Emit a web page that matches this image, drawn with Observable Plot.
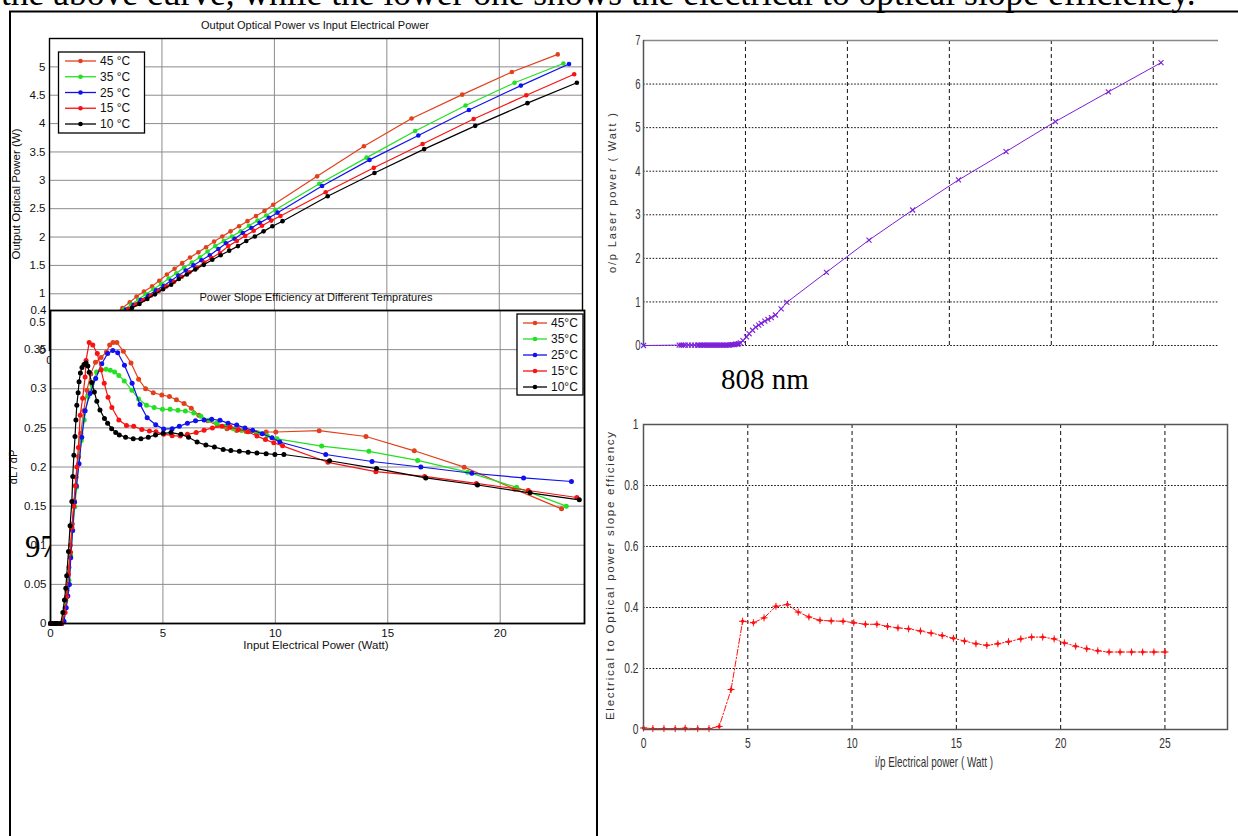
<!DOCTYPE html>
<html>
<head>
<meta charset="utf-8">
<script src="https://cdn.jsdelivr.net/npm/d3@7"></script>
<script src="https://cdn.jsdelivr.net/npm/@observablehq/plot@0.6"></script>
<style>
  body { margin: 0; background: #fff; }
  #page { position: relative; width: 1238px; height: 836px; overflow: hidden; background: #fff; }
  #page svg { position: absolute; }
</style>
</head>
<body>
<div id="page"></div>
<script>
// ---------- Output optical power vs input electrical power (W), per temperature ----------
const tempLabels = ["45 °C", "35 °C", "25 °C", "15 °C", "10 °C"];
const tempLabelsShort = ["45°C", "35°C", "25°C", "15°C", "10°C"];
const tempColors = ["#e2401c", "#22e022", "#1010f0", "#f81212", "#000000"];

const p45x = [2.9, 3.24, 3.57, 3.87, 4.2, 4.56, 4.88, 5.22, 5.56, 5.9, 6.25, 6.62, 6.96, 7.32, 7.68, 8.05, 8.43, 8.8, 9.18, 9.56, 9.95, 11.9, 13.98, 16.1, 18.35, 20.56, 22.6];
const p45y = [0.64, 0.75, 0.85, 0.95, 1.04, 1.13, 1.23, 1.34, 1.44, 1.54, 1.64, 1.73, 1.82, 1.92, 2.01, 2.10, 2.19, 2.28, 2.37, 2.46, 2.57, 3.07, 3.60, 4.09, 4.51, 4.91, 5.22];
const p35x = [3.0, 3.3, 3.63, 3.95, 4.28, 4.62, 4.96, 5.3, 5.64, 5.98, 6.33, 6.69, 7.03, 7.37, 7.75, 8.11, 8.5, 8.87, 9.25, 9.64, 10.05, 12.0, 14.1, 16.26, 18.5, 20.68, 22.85];
const p35y = [0.63, 0.72, 0.81, 0.9, 0.99, 1.08, 1.17, 1.27, 1.36, 1.46, 1.55, 1.645, 1.745, 1.84, 1.93, 2.01, 2.10, 2.20, 2.29, 2.38, 2.48, 2.94, 3.40, 3.87, 4.32, 4.72, 5.06];
const p25x = [3.1, 3.4, 3.73, 4.06, 4.4, 4.74, 5.08, 5.4, 5.73, 6.06, 6.4, 6.76, 7.13, 7.51, 7.85, 8.23, 8.6, 8.98, 9.35, 9.76, 10.14, 12.12, 14.23, 16.4, 18.65, 20.96, 23.1];
const p25y = [0.64, 0.72, 0.8, 0.89, 0.97, 1.06, 1.14, 1.23, 1.32, 1.41, 1.5, 1.59, 1.68, 1.79, 1.89, 1.97, 2.07, 2.16, 2.25, 2.34, 2.43, 2.90, 3.36, 3.79, 4.24, 4.67, 5.05];
const p15x = [3.2, 3.5, 3.84, 4.18, 4.52, 4.86, 5.2, 5.54, 5.88, 6.22, 6.56, 6.88, 7.2, 7.58, 7.95, 8.33, 8.7, 9.08, 9.45, 9.86, 10.27, 12.28, 14.42, 16.59, 18.86, 21.2, 23.33];
const p15y = [0.65, 0.73, 0.81, 0.89, 0.97, 1.05, 1.13, 1.21, 1.3, 1.38, 1.46, 1.55, 1.63, 1.72, 1.84, 1.93, 2.02, 2.11, 2.2, 2.29, 2.37, 2.79, 3.22, 3.64, 4.08, 4.50, 4.87];
const p10x = [3.35, 3.67, 4.0, 4.35, 4.69, 5.05, 5.41, 5.75, 6.11, 6.48, 6.86, 7.24, 7.61, 7.99, 8.38, 8.75, 9.13, 9.52, 9.91, 10.36, 12.37, 14.45, 16.66, 18.93, 21.25, 23.45];
const p10y = [0.67, 0.75, 0.82, 0.91, 0.99, 1.08, 1.16, 1.26, 1.34, 1.43, 1.51, 1.6, 1.68, 1.76, 1.84, 1.93, 2.01, 2.1, 2.19, 2.28, 2.72, 3.13, 3.55, 3.96, 4.36, 4.72];
const powerTicksX = [0, 5, 10, 15, 20];
const powerTicksY = [0, 0.5, 1, 1.5, 2, 2.5, 3, 3.5, 4, 4.5, 5];

// ---------- Power slope efficiency dL/dP, per temperature ----------
const s45x = [0, 0.1, 0.2, 0.3, 0.4, 0.5, 0.65, 0.73, 0.82, 0.89, 0.97, 1.06, 1.14, 1.25, 1.35, 1.48, 1.62, 1.79, 2.0, 2.25, 2.49, 2.63, 2.78, 2.95, 3.24, 3.58, 3.92, 4.23, 4.57, 4.95, 5.29, 5.6, 5.94, 6.26, 6.6, 7.0, 7.42, 7.85, 8.28, 8.7, 9.15, 9.59, 10.02, 11.95, 14.03, 16.18, 18.4, 20.65, 22.73];
const s45y = [0, 0, 0, 0, 0, 0, 0.02, 0.042, 0.072, 0.1, 0.127, 0.157, 0.187, 0.213, 0.243, 0.272, 0.298, 0.319, 0.334, 0.34, 0.347, 0.356, 0.359, 0.359, 0.348, 0.333, 0.312, 0.30, 0.295, 0.292, 0.29, 0.286, 0.281, 0.275, 0.266, 0.259, 0.253, 0.249, 0.2468, 0.2455, 0.244, 0.2447, 0.2447, 0.2464, 0.239, 0.2207, 0.1998, 0.1717, 0.1465];
const s35x = [0, 0.1, 0.2, 0.3, 0.4, 0.5, 0.68, 0.82, 0.9, 0.99, 1.08, 1.16, 1.25, 1.37, 1.5, 1.67, 1.84, 2.05, 2.25, 2.47, 2.66, 2.85, 3.04, 3.28, 3.62, 3.92, 4.27, 4.61, 4.98, 5.32, 5.67, 6.0, 6.37, 6.69, 7.05, 7.39, 7.76, 8.14, 8.5, 8.87, 9.25, 9.64, 10.07, 12.06, 14.16, 16.33, 18.55, 20.73, 22.94];
const s35y = [0, 0, 0, 0, 0, 0, 0.029, 0.055, 0.087, 0.119, 0.149, 0.174, 0.204, 0.234, 0.26, 0.29, 0.305, 0.3215, 0.3245, 0.325, 0.3237, 0.3215, 0.317, 0.31, 0.298, 0.287, 0.279, 0.276, 0.2737, 0.2737, 0.2724, 0.2716, 0.269, 0.2647, 0.2596, 0.256, 0.252, 0.249, 0.2468, 0.2455, 0.2434, 0.24, 0.236, 0.2267, 0.22, 0.2084, 0.1934, 0.174, 0.15];
const s25x = [0, 0.1, 0.2, 0.3, 0.4, 0.5, 0.6, 0.7, 0.77, 0.84, 0.9, 0.98, 1.07, 1.15, 1.27, 1.39, 1.54, 1.76, 2.01, 2.28, 2.54, 2.77, 2.99, 3.29, 3.63, 3.98, 4.3, 4.68, 5.03, 5.41, 5.73, 6.09, 6.45, 6.83, 7.17, 7.54, 7.9, 8.28, 8.65, 8.99, 9.42, 9.85, 10.2, 12.24, 14.3, 16.47, 18.74, 21.04, 23.17];
const s25y = [0, 0, 0, 0, 0, 0, 0.003, 0.02, 0.035, 0.05, 0.084, 0.119, 0.155, 0.176, 0.204, 0.238, 0.272, 0.294, 0.313, 0.332, 0.345, 0.349, 0.346, 0.33, 0.307, 0.28, 0.263, 0.254, 0.2485, 0.249, 0.252, 0.256, 0.259, 0.26, 0.261, 0.2596, 0.256, 0.2536, 0.25, 0.247, 0.2425, 0.2374, 0.232, 0.216, 0.207, 0.2, 0.192, 0.186, 0.1815];
const s15x = [0, 0.1, 0.2, 0.3, 0.4, 0.5, 0.65, 0.72, 0.8, 0.89, 0.95, 1.03, 1.1, 1.17, 1.24, 1.32, 1.43, 1.54, 1.58, 1.72, 1.88, 2.08, 2.25, 2.39, 2.56, 2.73, 3.04, 3.38, 3.7, 4.06, 4.4, 4.69, 5.03, 5.41, 5.77, 6.09, 6.48, 6.83, 7.2, 7.63, 7.99, 8.36, 8.79, 9.18, 9.56, 9.93, 10.32, 12.34, 14.47, 16.64, 18.94, 21.25, 23.41];
const s15y = [0, 0, 0, 0, 0, 0, 0.014, 0.034, 0.063, 0.091, 0.123, 0.15, 0.176, 0.2, 0.225, 0.266, 0.288, 0.315, 0.336, 0.359, 0.356, 0.345, 0.324, 0.307, 0.289, 0.276, 0.26, 0.253, 0.252, 0.248, 0.246, 0.245, 0.242, 0.24, 0.2395, 0.2417, 0.244, 0.247, 0.25, 0.252, 0.251, 0.248, 0.245, 0.2395, 0.235, 0.231, 0.227, 0.206, 0.194, 0.188, 0.179, 0.170, 0.161];
const s10x = [0, 0.1, 0.2, 0.3, 0.45, 0.55, 0.62, 0.68, 0.72, 0.8, 0.87, 0.95, 0.99, 1.04, 1.09, 1.13, 1.17, 1.23, 1.27, 1.33, 1.4, 1.49, 1.58, 1.66, 1.72, 1.83, 1.95, 2.06, 2.2, 2.4, 2.54, 2.72, 2.9, 3.06, 3.34, 3.68, 4.02, 4.35, 4.67, 5.01, 5.36, 5.8, 6.14, 6.52, 6.91, 7.29, 7.68, 8.02, 8.4, 8.79, 9.18, 9.59, 9.98, 10.38, 12.41, 14.5, 16.69, 18.99, 21.33, 23.52];
const s10y = [0, 0, 0, 0, 0, 0.014, 0.03, 0.045, 0.061, 0.092, 0.125, 0.156, 0.188, 0.215, 0.239, 0.26, 0.279, 0.295, 0.309, 0.32, 0.327, 0.331, 0.333, 0.329, 0.321, 0.308, 0.296, 0.284, 0.273, 0.262, 0.256, 0.249, 0.244, 0.241, 0.238, 0.236, 0.236, 0.238, 0.241, 0.243, 0.244, 0.2417, 0.238, 0.232, 0.228, 0.2255, 0.2225, 0.221, 0.22, 0.219, 0.218, 0.217, 0.216, 0.216, 0.208, 0.198, 0.186, 0.177, 0.167, 0.158];
const slopeTicksX = [0, 5, 10, 15, 20];
const slopeTicksY = [0, 0.05, 0.1, 0.15, 0.2, 0.25, 0.3, 0.35, 0.4];

// ---------- 808 nm laser: output power vs input electrical power ----------
const laserX = [0, 1.75, 1.85, 1.95, 2.05, 2.2, 2.35, 2.5, 2.65, 2.72, 2.8, 2.87, 2.95, 3.02, 3.1, 3.17, 3.25, 3.32, 3.4, 3.47, 3.55, 3.62, 3.7, 3.77, 3.85, 3.92, 4.0, 4.07, 4.15, 4.22, 4.3, 4.37, 4.45, 4.52, 4.6, 4.67, 4.75, 4.88, 5.05, 5.18, 5.35, 5.5, 5.65, 5.77, 5.95, 6.1, 6.27, 6.47, 6.75, 7.03, 8.97, 11.06, 13.2, 15.45, 17.78, 20.2, 22.8, 25.38];
const laserY = [0, 0.01, 0.01, 0.01, 0.01, 0.01, 0.01, 0.01, 0.01, 0.01, 0.01, 0.01, 0.01, 0.01, 0.01, 0.01, 0.01, 0.01, 0.01, 0.01, 0.01, 0.01, 0.01, 0.01, 0.01, 0.01, 0.01, 0.01, 0.01, 0.01, 0.02, 0.02, 0.02, 0.03, 0.03, 0.04, 0.06, 0.11, 0.2, 0.27, 0.35, 0.42, 0.47, 0.51, 0.56, 0.6, 0.64, 0.7, 0.84, 0.99, 1.68, 2.42, 3.11, 3.80, 4.45, 5.14, 5.82, 6.49];
const laserTicksY = [0, 1, 2, 3, 4, 5, 6, 7];
const laserGridX = [5, 10, 15, 20, 25];

// ---------- 808 nm laser: electrical to optical slope efficiency ----------
const effX = [0, 0.45, 0.98, 1.52, 2.0, 2.6, 3.14, 3.63, 4.2, 4.75, 5.27, 5.78, 6.35, 6.9, 7.42, 7.93, 8.46, 9.0, 9.57, 10.08, 10.64, 11.19, 11.7, 12.2, 12.71, 13.28, 13.79, 14.32, 14.86, 15.39, 15.94, 16.46, 16.99, 17.5, 18.09, 18.61, 19.14, 19.69, 20.18, 20.72, 21.25, 21.78, 22.32, 22.85, 23.4, 23.93, 24.47, 25.0];
const effY = [0.005, 0.003, 0.003, 0.003, 0.004, 0.003, 0.003, 0.01, 0.131, 0.355, 0.35, 0.366, 0.404, 0.41, 0.385, 0.369, 0.358, 0.356, 0.355, 0.35, 0.345, 0.345, 0.338, 0.333, 0.33, 0.323, 0.316, 0.308, 0.299, 0.29, 0.281, 0.276, 0.281, 0.288, 0.297, 0.303, 0.303, 0.297, 0.284, 0.273, 0.265, 0.258, 0.254, 0.254, 0.254, 0.254, 0.254, 0.254];
const effTicksX = [0, 5, 10, 15, 20, 25];
const effTicksY = [0, 0.2, 0.4, 0.6, 0.8, 1];

// ---------- helpers ----------
const pts = (xs, ys) => xs.map((x, i) => ({x, y: ys[i]}));
const page = document.getElementById("page");
const SANS = "'Liberation Sans', Arial, Helvetica, sans-serif";
const SERIF = "'Liberation Serif', 'Times New Roman', serif";
const fmt = d => String(d);

function place(svg, left, top) {
  svg.style.left = left + "px";
  svg.style.top = top + "px";
  page.appendChild(svg);
  return svg;
}

// squeeze text horizontally for a condensed look
function condense(svg, selector, factor) {
  d3.select(svg).selectAll(selector).each(function () {
    const len = this.getComputedTextLength();
    this.setAttribute("textLength", (len * factor).toFixed(2));
    this.setAttribute("lengthAdjust", "spacingAndGlyphs");
  });
}

function seriesMarks(list, r) {
  const marks = [];
  list.forEach(({data, color}) => {
    marks.push(Plot.line(data, {x: "x", y: "y", stroke: color, strokeWidth: 1.2}));
    marks.push(Plot.dot(data, {x: "x", y: "y", fill: color, stroke: null, r}));
  });
  return marks;
}

function legend(svg, box, labels, colors, o) {
  const g = d3.select(svg).append("g");
  g.append("rect").attr("x", box.x).attr("y", box.y).attr("width", box.w).attr("height", box.h)
    .attr("fill", "#fff").attr("stroke", "#000").attr("stroke-width", 1.3);
  labels.forEach((lab, i) => {
    const y = box.y + o.first + i * o.step;
    g.append("line").attr("x1", o.x1).attr("x2", o.x2).attr("y1", y).attr("y2", y)
      .attr("stroke", colors[i]).attr("stroke-width", 1.3);
    g.append("circle").attr("cx", (o.x1 + o.x2) / 2).attr("cy", y).attr("r", 2.3).attr("fill", colors[i]);
    g.append("text").attr("x", o.tx).attr("y", y).attr("dy", "0.35em").attr("text-anchor", "start")
      .attr("font-family", SANS).attr("font-size", 12).attr("fill", "#111").text(lab);
  });
}

function label(svg, text, x, y, opts = {}) {
  const t = d3.select(svg).append("text")
    .attr("x", x).attr("y", y)
    .attr("text-anchor", "middle")
    .attr("font-family", opts.family || SANS)
    .attr("font-size", opts.size || 11)
    .attr("fill", opts.fill || "#111")
    .text(text);
  if (opts.rotate) t.attr("transform", `rotate(-90 ${x} ${y})`);
  if (opts.length) t.attr("textLength", opts.length).attr("lengthAdjust", opts.adjust || "spacing");
  return t;
}

// ---------- page text layer (under the charts) ----------
const back = d3.create("svg").attr("width", 1238).attr("height", 836).style("left", "0px").style("top", "0px");
back.append("text").attr("x", 1).attr("y", 5).attr("font-family", SERIF).attr("font-size", 35.5).attr("fill", "#000")
  .text("the above curve, while the lower one shows the electrical to optical slope efficiency.");
back.append("text").attr("x", 25).attr("y", 557).attr("font-family", SERIF).attr("font-size", 31).attr("fill", "#000").text("97");
back.append("text").attr("x", 721).attr("y", 389).attr("font-family", SERIF).attr("font-size", 29).attr("fill", "#000").text("808 nm");
back.append("text").attr("x", 13).attr("y", 467).attr("text-anchor", "middle").attr("dy", "0.35em")
  .attr("transform", "rotate(-90 13 467)").attr("font-family", SANS).attr("font-size", 11).attr("fill", "#111").text("dL / dP");
page.appendChild(back.node());

// ---------- chart: output optical power ----------
const gridColor = "#8c8c8c";
const powerSeries = [
  {data: pts(p45x, p45y), color: tempColors[0]},
  {data: pts(p35x, p35y), color: tempColors[1]},
  {data: pts(p25x, p25y), color: tempColors[2]},
  {data: pts(p15x, p15y), color: tempColors[3]},
  {data: pts(p10x, p10y), color: tempColors[4]}
];
const powerChart = Plot.plot({
  width: 600, height: 380,
  marginLeft: 49, marginRight: 18, marginTop: 38, marginBottom: 30,
  x: {domain: [0, 23.7]},
  y: {domain: [0, 5.5]},
  style: {background: "transparent", overflow: "visible", fontFamily: SANS, fontSize: "11.5px", color: "#111"},
  marks: [
    Plot.ruleX(powerTicksX.slice(1), {stroke: gridColor, strokeWidth: 1}),
    Plot.ruleY(powerTicksY.slice(1), {stroke: gridColor, strokeWidth: 1}),
    Plot.axisY({ticks: powerTicksY, tickSize: 0, tickPadding: 4, tickFormat: fmt, label: null}),
    Plot.axisX({ticks: powerTicksX, tickSize: 0, tickPadding: 5, tickFormat: fmt, label: null}),
    ...seriesMarks(powerSeries, 2.3),
    Plot.frame({stroke: "#000", strokeWidth: 1.4})
  ]
});
place(powerChart, 0, 0);
label(powerChart, "Output Optical Power vs Input Electrical Power", 315, 29, {size: 11});
label(powerChart, "Output Optical Power (W)", 20, 194, {size: 11.5, rotate: true});
legend(powerChart, {x: 58.5, y: 52, w: 86, h: 81}, tempLabels, tempColors,
  {first: 9, step: 15.75, x1: 65, x2: 96, tx: 100});

// ---------- chart: power slope efficiency ----------
const slopeSeries = [
  {data: pts(s45x, s45y), color: tempColors[0]},
  {data: pts(s35x, s35y), color: tempColors[1]},
  {data: pts(s25x, s25y), color: tempColors[2]},
  {data: pts(s15x, s15y), color: tempColors[3]},
  {data: pts(s10x, s10y), color: tempColors[4]}
];
const slopeChart = Plot.plot({
  width: 600, height: 380,
  marginLeft: 50, marginRight: 16, marginTop: 30, marginBottom: 37,
  x: {domain: [0, 23.75]},
  y: {domain: [0, 0.4]},
  style: {background: "transparent", overflow: "visible", fontFamily: SANS, fontSize: "11.5px", color: "#111"},
  marks: [
    Plot.frame({fill: "#fff", stroke: null}),
    Plot.ruleX(slopeTicksX.slice(1), {stroke: gridColor, strokeWidth: 1}),
    Plot.ruleY(slopeTicksY.slice(1, -1), {stroke: gridColor, strokeWidth: 1}),
    Plot.axisY({ticks: slopeTicksY, tickSize: 0, tickPadding: 4, tickFormat: fmt, label: null}),
    Plot.axisX({ticks: slopeTicksX, tickSize: 0, tickPadding: 5, tickFormat: fmt, label: null}),
    ...seriesMarks(slopeSeries, 2.5),
    Plot.frame({stroke: "#000", strokeWidth: 1.8})
  ]
});
place(slopeChart, 0, 280);
label(slopeChart, "Power Slope Efficiency at Different Tempratures", 316, 21, {size: 11});
label(slopeChart, "Input Electrical Power (Watt)", 316, 369, {size: 11.5});
legend(slopeChart, {x: 517, y: 34, w: 66, h: 81}, tempLabelsShort, tempColors,
  {first: 9, step: 16, x1: 523, x2: 547, tx: 551});

// ---------- chart: 808 nm output power ----------
const laserColor = "#7b1fd8";
const laserData = pts(laserX, laserY);
const laserChart = Plot.plot({
  width: 638, height: 400,
  marginLeft: 43, marginRight: 20, marginTop: 40, marginBottom: 55,
  x: {domain: [0, 28.2], axis: null},
  y: {domain: [0, 7]},
  style: {background: "transparent", overflow: "visible", fontFamily: SANS, fontSize: "14.5px", color: "#333"},
  marks: [
    Plot.ruleY(laserTicksY.slice(0, -1), {stroke: "#111", strokeWidth: 1, strokeDasharray: "1.6,1.6"}),
    Plot.ruleX(laserGridX, {stroke: "#111", strokeWidth: 1, strokeDasharray: "4,3"}),
    Plot.ruleY([7], {stroke: "#888", strokeWidth: 1.5}),
    Plot.ruleX([0], {stroke: "#555", strokeWidth: 1.5}),
    Plot.axisY({ticks: laserTicksY, tickSize: 0, tickPadding: 3, tickFormat: fmt, label: null}),
    Plot.line(laserData, {x: "x", y: "y", stroke: laserColor, strokeWidth: 1}),
    Plot.dot(laserData, {x: "x", y: "y", symbol: "times", r: 2.4, stroke: laserColor, strokeWidth: 1.1})
  ]
});
place(laserChart, 600, 0);
condense(laserChart, 'g[aria-label="y-axis tick label"] text', 0.66);
label(laserChart, "o/p Laser power ( Watt )", 16, 193, {size: 11, rotate: true, fill: "#333", length: 160});

// ---------- chart: 808 nm slope efficiency ----------
const effColor = "#ff1010";
const effData = pts(effX, effY);
const effChart = Plot.plot({
  width: 638, height: 436,
  marginLeft: 43, marginRight: 11, marginTop: 24, marginBottom: 107,
  x: {domain: [0, 28]},
  y: {domain: [0, 1]},
  style: {background: "transparent", overflow: "visible", fontFamily: SANS, fontSize: "15.5px", color: "#333"},
  marks: [
    Plot.ruleY(effTicksY.slice(1, -1), {stroke: "#111", strokeWidth: 1, strokeDasharray: "1.6,1.6"}),
    Plot.ruleX(effTicksX.slice(1), {stroke: "#111", strokeWidth: 1, strokeDasharray: "4,3"}),
    Plot.axisY({ticks: effTicksY, tickSize: 0, tickPadding: 5, tickFormat: fmt, label: null}),
    Plot.axisX({ticks: effTicksX, tickSize: 0, tickPadding: 7, tickFormat: fmt, label: null}),
    Plot.line(effData, {x: "x", y: "y", stroke: effColor, strokeWidth: 1, strokeDasharray: "6,2,1.5,2"}),
    Plot.dot(effData, {x: "x", y: "y", fill: effColor, stroke: null, r: 1.7}),
    Plot.dot(effData, {x: "x", y: "y", symbol: "plus", r: 2.4, stroke: effColor, strokeWidth: 1}),
    Plot.frame({stroke: "#555", strokeWidth: 1.5})
  ]
});
place(effChart, 600, 400);
condense(effChart, 'g[aria-label="y-axis tick label"] text', 0.66);
condense(effChart, 'g[aria-label="x-axis tick label"] text', 0.66);
label(effChart, "Electrical to Optical power slope efficiency", 14, 176, {size: 11.5, rotate: true, fill: "#333", length: 288});
label(effChart, "i/p Electrical power ( Watt )", 334, 367, {size: 14.5, fill: "#333", length: 118, adjust: "spacingAndGlyphs"});

// ---------- table rules of the page (on top) ----------
const front = d3.create("svg").attr("width", 1238).attr("height", 836).style("left", "0px").style("top", "0px")
  .style("pointer-events", "none");
front.append("line").attr("x1", 9).attr("x2", 1238).attr("y1", 11.5).attr("y2", 11.5).attr("stroke", "#000").attr("stroke-width", 2.2);
front.append("line").attr("x1", 10).attr("x2", 10).attr("y1", 11).attr("y2", 836).attr("stroke", "#000").attr("stroke-width", 2);
front.append("line").attr("x1", 597).attr("x2", 597).attr("y1", 11).attr("y2", 836).attr("stroke", "#000").attr("stroke-width", 2);
page.appendChild(front.node());
</script>
</body>
</html>
